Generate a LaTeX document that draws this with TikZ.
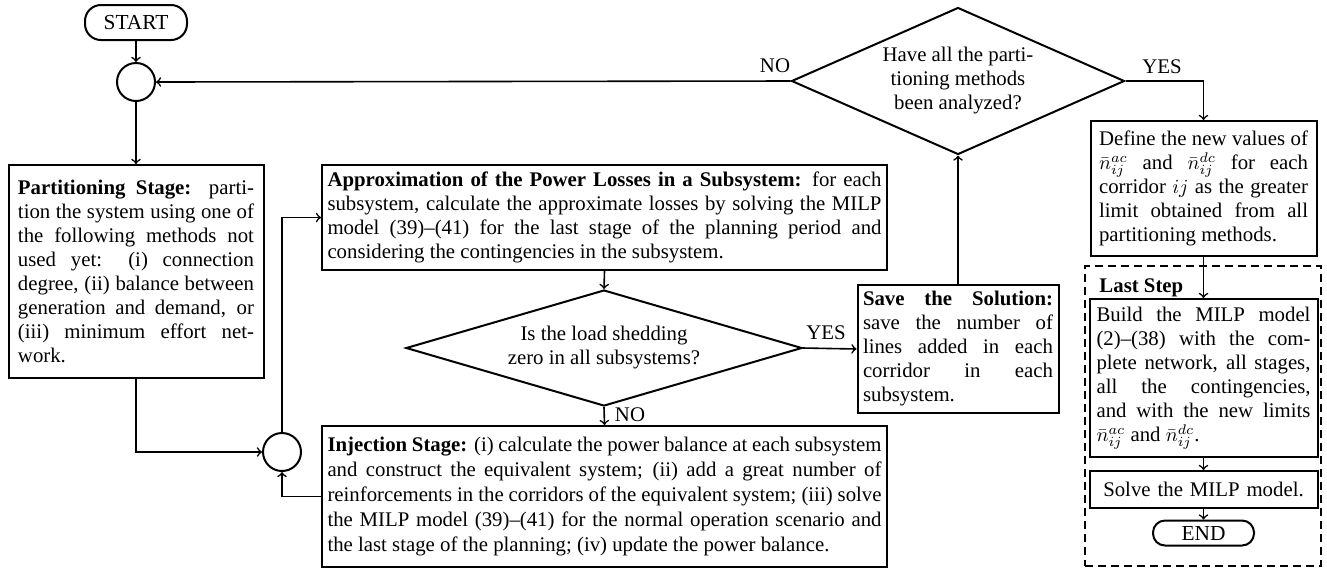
\documentclass[tikz,border=0pt]{standalone}
\usepackage{fontspec}
\setmainfont{Liberation Serif}
\usepackage{amsmath}
\usetikzlibrary{shapes.geometric}

\begin{document}
\begin{tikzpicture}[x=0.5pt, y=-0.5pt, line width=0.8pt,
    every node/.style={font=\fontsize{10.4}{12}\selectfont},
    box/.style={draw, line width=1pt, align=justify, inner ysep=2pt},
    dec/.style={draw, diamond, line width=1pt, align=center, inner sep=0pt},
    junc/.style={draw, circle, line width=1pt, minimum size=19pt, inner sep=0pt},
    term/.style={draw, line width=1pt, inner sep=0pt}]

    \useasboundingbox (0,0) rectangle (1327,570);

    % Nodes
    \node at (136,22.5) (start) [term, rounded corners=8pt, minimum width=51pt, minimum height=17.5pt,
        font=\fontsize{10.7}{12}\selectfont] {START};
    \node at (136,82) (loop) [junc] {};
    \node at (136,271.5) (part) [box, text width=118pt, inner xsep=4.75pt, minimum height=106.5pt]
        {\textbf{Partitioning Stage:} parti-\linebreak tion the system using one of\linebreak
         the following methods not\linebreak used yet: (i) connection\linebreak
         degree, (ii) balance between\linebreak generation and demand, or\linebreak
         (iii) minimum effort net-\linebreak work.};
    \node at (282,452) (merge) [junc] {};
    \node at (604.5,217.5) (approx) [box, text width=277pt, inner xsep=2.75pt, minimum height=52.5pt]
        {\textbf{Approximation of the Power Losses in a Subsystem:} for each\linebreak
         subsystem, calculate the approximate losses by solving the MILP\linebreak
         model (39)--(41) for the last stage of the planning period and\linebreak
         considering the contingencies in the subsystem.};
    \node at (604,348) (shed) [dec, shape aspect=3.41, minimum width=198pt, minimum height=58pt]
        {Is the load shedding\\zero in all subsystems?};
    \node at (604.5,496.5) (inject) [box, text width=277pt, inner xsep=2.75pt, minimum height=70.5pt,
        font=\fontsize{10.4}{12.6}\selectfont]
        {\textbf{Injection Stage:} (i) calculate the power balance at each subsystem\linebreak
         and construct the equivalent system; (ii) add a great number of\linebreak
         reinforcements in the corridors of the equivalent system; (iii) solve\linebreak
         the MILP model (39)--(41) for the normal operation scenario and\linebreak
         the last stage of the planning; (iv) update the power balance.};
    \node at (958,349) (save) [box, text width=95pt, inner xsep=2.75pt, minimum height=64pt]
        {\textbf{Save the Solution:}\linebreak save the number of\linebreak
         lines added in each\linebreak corridor in each\linebreak subsystem.};
    \node at (958,81) (methods) [dec, shape aspect=2.27, minimum width=166.5pt, minimum height=73.5pt]
        {Have all the parti-\\tioning methods\\been analyzed?};
    \node at (1203.5,188.5) (define) [box, text width=104.5pt, inner xsep=4.25pt, minimum height=67.5pt]
        {Define the new values of\linebreak
         $\bar{n}_{ij}^{ac}$ and $\bar{n}_{ij}^{dc}$ for each\linebreak
         corridor $ij$ as the greater\linebreak limit obtained from all\linebreak
         partitioning methods.};
    \node at (1203,416) (last) [draw, line width=1pt, dash pattern=on 4pt off 2.5pt,
        minimum width=118pt, minimum height=150pt] {};
    \node at (1092,292) (laststep) [anchor=base west] {\textbf{Last Step}};
    \node at (1203.5,378) (build) [box, text width=107pt, inner xsep=3.5pt, minimum height=79pt]
        {Build the MILP model\linebreak (2)--(38) with the com-\linebreak
         plete network, all stages,\linebreak all the contingencies,\linebreak
         and with the new limits\linebreak $\bar{n}_{ij}^{ac}$ and $\bar{n}_{ij}^{dc}$.};
    \node at (1203.5,489.5) (solve) [box, text width=107pt, inner xsep=3.5pt, align=center,
        minimum height=18.5pt] {Solve the MILP model.};
    \node at (1203.5,533) (end) [term, rounded corners=6pt, minimum width=50.5pt, minimum height=12.5pt,
        font=\fontsize{10.7}{12}\selectfont] {END};

    % Labels
    \node at (775,66) (no1) {NO};
    \node at (1162,67) (yes1) {YES};
    \node at (826,333) (yes2) {YES};
    \node at (630,415) (no2) {NO};

    % Arrows
    \draw[->] (start) -- (loop);
    \draw[->] (loop) -- (part);
    \draw[->] (part.south) |- (merge.west);
    \draw[->] (merge.north) |- (approx.west);
    \draw[->] (inject.west) -| (merge.south);
    \draw[->] (approx.south) -- (shed.north);
    \draw[->] (shed.south) -- (inject.north);
    \draw[->] (shed.east) -- (save.west);
    \draw[->] (save.north) -- (methods.south);
    \draw[->] (methods.west) -- (loop.east);
    \draw[->] (methods.east) -| (define.north);
    \draw[->] (define) -- (build);
    \draw[->] (build) -- (solve);
    \draw[->] (solve) -- (end);

\end{tikzpicture}
\end{document}
